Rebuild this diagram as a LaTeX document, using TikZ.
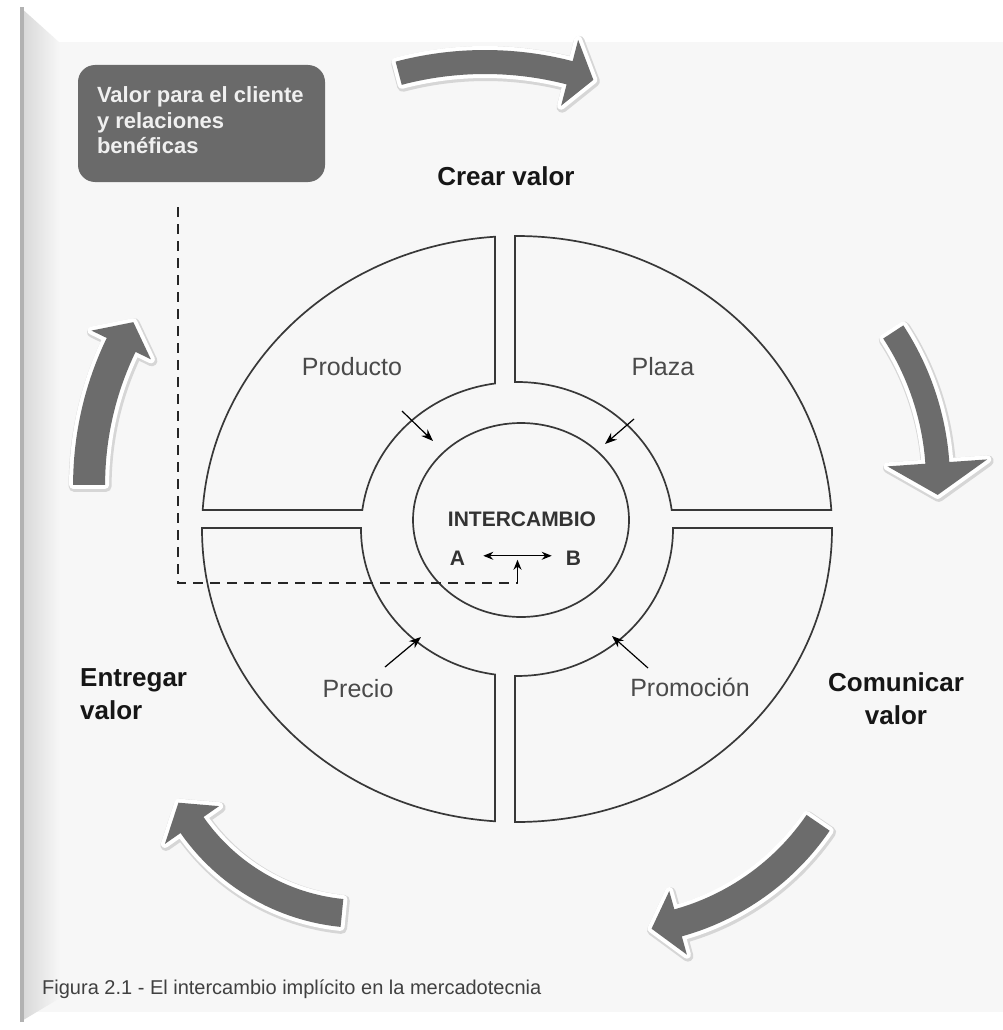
\documentclass[tikz,border=0pt]{standalone}
\usepackage{fontspec}
\setmainfont{Liberation Sans}
\usetikzlibrary{calc,arrows.meta,shapes.geometric}

\definecolor{panel}{HTML}{F7F7F7}
\definecolor{swooshgray}{HTML}{6C6C6C}
\definecolor{linegray}{HTML}{383838}
\definecolor{boxgray}{HTML}{6A6A6A}
\definecolor{labelgray}{HTML}{4A4A4A}
\definecolor{inkdark}{HTML}{161616}

% curved block arrow running along a circle arc:
% #1,#2 centre, #3 radius, #4 tail angle, #5 head-base angle,
% #6 half body width, #7 half head width, #8 tip angle
\newcommand\swoosh[8]{%
  \pgfmathsetmacro\swRo{#3+#6}%
  \pgfmathsetmacro\swRi{#3-#6}%
  \pgfmathsetmacro\swHo{#3+#7}%
  \pgfmathsetmacro\swHi{#3-#7}%
  \foreach \lay in {swshadow,swwhite,swfill}{%
    \path[\lay] ($(#1,#2)+(#4:\swRo)$)
        arc[start angle=#4, end angle=#5, radius=\swRo]
      -- ($(#1,#2)+(#5:\swHo)$) -- ($(#1,#2)+(#8:#3)$) -- ($(#1,#2)+(#5:\swHi)$)
      -- ($(#1,#2)+(#5:\swRi)$)
        arc[start angle=#5, end angle=#4, radius=\swRi] -- cycle;
  }%
}

% one quarter of the ring: outer arc, straight edge, inner arc, straight edge
\newcommand\ringpart[4]{%
  \draw[ring] ($(qc)+({#1}:315 and 293)$)
      arc[start angle={#1}, end angle={#2}, x radius=315, y radius=293]
    -- ($(qc)+({#3}:156 and 147)$)
      arc[start angle={#3}, end angle={#4}, x radius=156, y radius=147] -- cycle;
}

\begin{document}
\begin{tikzpicture}[x=1pt, y=-1pt,
  swshadow/.style={draw=black!16, line width=11pt, line join=round, shift={(1,1.5)}},
  swwhite/.style={draw=white, fill=white, line width=8pt, line join=round},
  swfill/.style={fill=swooshgray},
  ring/.style={draw=linegray, line width=1.7pt, line join=miter},
  smallarrow/.style={draw=black, line width=1.2pt, -{Stealth[length=12pt,width=9pt]}},
  quadlabel/.style={font=\fontsize{25}{30}\selectfont, text=labelgray, inner sep=0pt, anchor=base},
  steplabel/.style={font=\fontsize{26}{33}\selectfont\bfseries, text=inkdark, inner sep=0pt},
  corelabel/.style={font=\fontsize{21}{25}\selectfont\bfseries, text=black!80, inner sep=0pt, anchor=base},
  dashline/.style={draw=black!85, line width=1.3pt, dash pattern=on 10pt off 7pt}
]
\useasboundingbox (0,0) rectangle (1003,1030);

% page with folded left edge
\fill[white] (0,0) rectangle (1003,1030);
\fill[panel] (20,42) rectangle (1003,1012);
\shade[left color=black!16, right color=panel] (20,7) -- (60,43) -- (60,998) -- (20,1022) -- cycle;
\fill[black!30] (20,7) rectangle (23.5,1022);

% value box
\node[rectangle, rounded corners=17pt, fill=boxgray, minimum width=247pt, minimum height=117pt,
      inner sep=0pt] (valuebox) at (201.5,123.5) {};
\node[anchor=north west, inner sep=0pt, align=left, text=white!94!black,
      font=\fontsize{22}{25.5}\selectfont\bfseries] (valuetext) at ($(valuebox.north west)+(19,22)$)
  {Valor para el cliente\\y relaciones\\benéficas};

% ring of four quarters
\coordinate (qc) at (517,529);
\ringpart{-94.005}{-176.28}{-172.57}{-98.11}
\ringpart{-90.36}{-3.718}{-7.43}{-90.73}
\ringpart{94.005}{180.196}{180.39}{98.11}
\ringpart{90.36}{-0.196}{-0.39}{90.73}

% exchange core
\node[ellipse, draw=linegray, line width=1.7pt, minimum width=216pt, minimum height=194pt, inner sep=0pt]
  (core) at (521,520) {};
\node[corelabel] (exch) at (522,526) {INTERCAMBIO};
\node[corelabel] (pa) at (457.5,565) {A};
\node[corelabel] (pb) at (573.5,565) {B};
\draw[line width=1.2pt, {Stealth[length=10pt,width=8pt]}-{Stealth[length=10pt,width=8pt]}]
  (pa.east) ++(18,-2) coordinate (abl) -- ($(pb.west)+(-14,-2)$) coordinate (abr);
\coordinate (abmid) at ($(abl)!0.5!(abr)$);

% quarter labels
\node[quadlabel] (producto) at (352,375) {Producto};
\node[quadlabel] (plaza) at (663,375) {Plaza};
\node[quadlabel] (precio) at (358,697) {Precio};
\node[quadlabel] (promocion) at (690,696) {Promoción};

% inward arrows
\coordinate (ula) at (402,411);  \coordinate (ulb) at (433,441);
\coordinate (ura) at (634,419);  \coordinate (urb) at (605,444);
\coordinate (lla) at (385,667);  \coordinate (llb) at (421,637);
\coordinate (lra) at (648,668);  \coordinate (lrb) at (612,636);
\draw[smallarrow] (ula) -- (ulb);
\draw[smallarrow] (ura) -- (urb);
\draw[smallarrow] (lla) -- (llb);
\draw[smallarrow] (lra) -- (lrb);

% dashed link from the value box to the exchange
\coordinate (dtop) at (178,207);
\coordinate (dcorner) at (178,583);
\coordinate (dend) at (abmid |- dcorner);
\draw[dashline] (dtop) -- (dcorner) -- (dend);
\draw[line width=1.2pt, -{Stealth[length=10pt,width=8pt]}] (dend) -- ($(abmid)+(0,4)$);

% cycle arrows
\swoosh{485}{400}{338}{-104.8}{-75.5}{12}{34}{-71.3}
\swoosh{664}{482}{274}{-33.2}{-4.0}{12}{50}{2.7}
\swoosh{611}{681}{251}{34.4}{74.5}{14}{33}{80.7}
\swoosh{362.6}{706}{208}{95.7}{145.1}{14}{33}{152.3}
\swoosh{410.7}{484.9}{321.6}{180}{205.8}{16}{33}{210.4}

% stage labels
\node[steplabel, anchor=base] (crear) at (506,185) {Crear valor};
\node[steplabel, align=center] (comunicar) at (896,698.5) {Comunicar\\valor};
\node[steplabel, align=left, anchor=north west] (entregar) at (80,668) {Entregar\\valor};

% caption
\node[font=\fontsize{20}{24}\selectfont, text=black!75, inner sep=0pt, anchor=base west]
  (caption) at (42,994) {Figura 2.1 - El intercambio implícito en la mercadotecnia};
\end{tikzpicture}
\end{document}
